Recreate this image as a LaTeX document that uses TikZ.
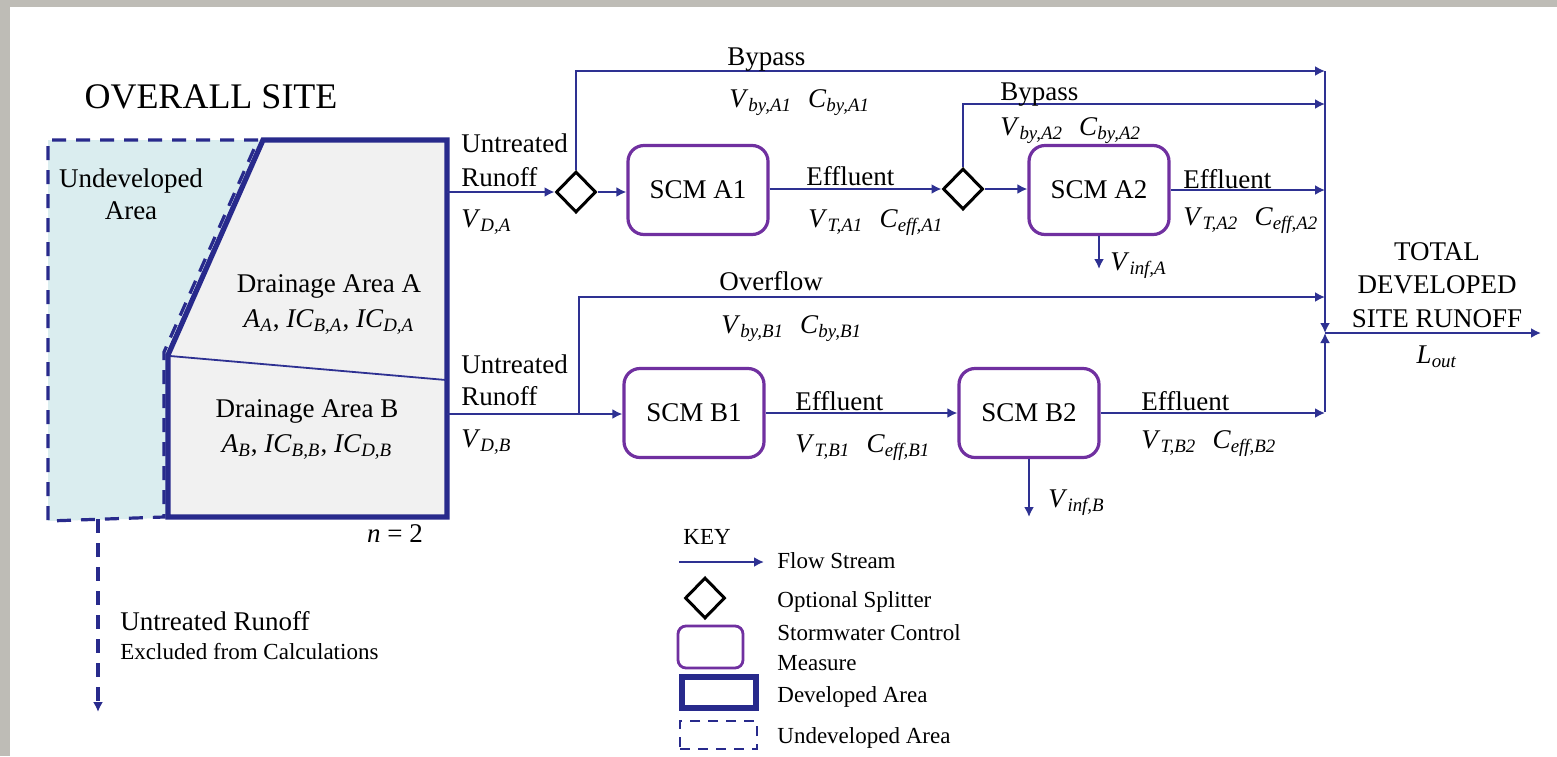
\documentclass[tikz,border=0pt]{standalone}
\usepackage{amsmath}
\usepackage{fontspec}
\setmainfont{Liberation Serif}
\usepackage{tikz}
\usetikzlibrary{arrows.meta}
\usetikzlibrary{shapes.geometric}
\usetikzlibrary{positioning}
\definecolor{flowblue}{RGB}{46,49,146}
\definecolor{devblue}{RGB}{40,42,140}
\definecolor{scmpurple}{RGB}{112,48,160}
\definecolor{undevfill}{RGB}{218,237,239}
\definecolor{devfill}{RGB}{241,241,241}
\definecolor{bggrey}{RGB}{190,188,182}
\newcommand{\vsub}[2]{\textit{#1}\textsubscript{\textit{#2}}}
\tikzset{
    flow/.style={draw=flowblue, line width=1pt, -{Latex[length=5pt,width=5pt]}},
    scm/.style={draw=scmpurple, line width=1.6pt, rounded corners=8pt, minimum width=70pt, minimum height=44.5pt, font=\fontsize{13.5}{16}\selectfont},
    splitter/.style={diamond, draw=black, line width=1.5pt, inner sep=0pt, minimum width=20pt, minimum height=20.5pt},
    undev/.style={draw=devblue, line width=1.6pt, dash pattern=on 7pt off 5pt},
    dev/.style={draw=devblue, line width=2.6pt},
    lbl/.style={anchor=base west, inner sep=0pt, font=\fontsize{13.5}{16}\selectfont},
    ctr/.style={anchor=base, inner sep=0pt, font=\fontsize{13.5}{16}\selectfont},
    keytxt/.style={anchor=base west, inner sep=0pt, font=\fontsize{11.5}{14}\selectfont}
}
\begin{document}
\begin{tikzpicture}[x=0.5pt,y=-0.5pt]
\useasboundingbox (0,0) rectangle (1557,756);
\fill[bggrey] (0,0) rectangle (1557,756);
\fill[white] (10,7) rectangle (1557,756);

\fill[undevfill] (48,140) -- (260,140) -- (166,352) -- (166,518) -- (48,521) -- cycle;
\fill[devfill] (263,140) -- (447,140) -- (447,517) -- (168,517) -- (168,355) -- cycle;
\draw[undev] (258,140) -- (48,140) -- (48,521) -- (164,517) -- (164,352) -- cycle;
\draw[dev] (263,140) -- (447,140) -- (447,517) -- (168,517) -- (168,355) -- cycle;
\draw[flowblue, line width=0.9pt] (170,356) -- (446,380);

\node[ctr, font=\fontsize{18}{22}\selectfont] (site) at (211,108) {OVERALL SITE};
\foreach \x/\y/\name/\txt in {131/187/undevA/Undeveloped, 131/219/undevB/Area,
    329/292/areaA/{Drainage Area A}, 329/327/parA/{\vsub{A}{A}, \vsub{IC}{B,A}, \vsub{IC}{D,A}},
    307/417/areaB/{Drainage Area B}, 307/452/parB/{\vsub{A}{B}, \vsub{IC}{B,B}, \vsub{IC}{D,B}},
    395/542/nareas/{\textit{n} = 2},
    1437/260/totA/TOTAL, 1437/293/totB/DEVELOPED, 1437/327/totC/{SITE RUNOFF}, 1437/363/lout/{\vsub{L}{out}}}{
    \node[ctr] (\name) at (\x,\y) {\txt};
}

\coordinate (runA) at (447,192);
\coordinate (runB) at (447,414);
\coordinate (ovB) at (579,414);
\coordinate (colTop) at (1325,71);
\coordinate (colA2) at (1325,104);
\coordinate (colOv) at (1325,297);
\coordinate (junc) at (1325,333);
\coordinate (colBot) at (1325,412);
\coordinate (out) at (1541,333);
\coordinate (infA) at (1099,269);
\coordinate (infB) at (1029,517);
\coordinate (undevOut) at (98,519);
\coordinate (excl) at (98,712);

\node[splitter] (splA1) at (576,192) {};
\node[scm] (scmA1) at (698,190) {SCM A1};
\node[splitter] (splA2) at (963,189) {};
\node[scm] (scmA2) at (1099,190) {SCM A2};
\node[scm] (scmB1) at (694,413) {SCM B1};
\node[scm] (scmB2) at (1029,413) {SCM B2};

\draw[flow] (runA) -- (splA1.west);
\draw[flow] (splA1.east) -- (splA1.east -| scmA1.west);
\draw[flow] (splA1.north) |- (colTop);
\draw[flow] (scmA1.east |- splA2) -- (splA2.west);
\draw[flow] (splA2.north) |- (colA2);
\draw[flow] (splA2.east) -- (splA2.east -| scmA2.west);
\draw[flow] (scmA2.east) -- (scmA2.east -| junc);
\draw[flow] (scmA2.south) -- (infA);
\draw[flow] (runB) -- (runB -| scmB1.west);
\draw[flow] (ovB) |- (colOv);
\draw[flow] (scmB1.east) -- (scmB1.east -| scmB2.west);
\draw[flow] (scmB2.east) -- (scmB2.east -| junc);
\draw[flow] (scmB2.south) -- (infB);
\draw[flow] (colTop) -- (junc);
\draw[flow] (colBot) -- (junc);
\draw[flow] (junc) -- (out);
\draw[undev, -{Latex[length=5pt,width=5pt]}] (undevOut) -- (excl);

\foreach \x/\y/\name/\txt in {461/152/untrA/Untreated, 461/186/roffA/Runoff, 461/227/vDA/{\vsub{V}{D,A}},
    727/65/bypA1/Bypass, 729/107/vbyA1/{\vsub{V}{by,A1}\hspace{0.6em}\vsub{C}{by,A1}},
    806/185/effA1/Effluent, 808/227/vTA1/{\vsub{V}{T,A1}\hspace{0.6em}\vsub{C}{eff,A1}},
    1000/100/bypA2/Bypass, 1000/135/vbyA2/{\vsub{V}{by,A2}\hspace{0.6em}\vsub{C}{by,A2}},
    1183/188/effA2/Effluent, 1183/225/vTA2/{\vsub{V}{T,A2}\hspace{0.6em}\vsub{C}{eff,A2}},
    1110/270/vinfA/{\vsub{V}{inf,A}},
    719/290/ovfl/Overflow, 721/333/vbyB1/{\vsub{V}{by,B1}\hspace{0.6em}\vsub{C}{by,B1}},
    461/373/untrB/Untreated, 461/405/roffB/Runoff, 461/447/vDB/{\vsub{V}{D,B}},
    795/410/effB1/Effluent, 795/452/vTB1/{\vsub{V}{T,B1}\hspace{0.6em}\vsub{C}{eff,B1}},
    1141/410/effB2/Effluent, 1141/448/vTB2/{\vsub{V}{T,B2}\hspace{0.6em}\vsub{C}{eff,B2}},
    1048/507/vinfB/{\vsub{V}{inf,B}},
    120/630/untrX/{Untreated Runoff}}{
    \node[lbl] (\name) at (\x,\y) {\txt};
}
\node[keytxt] (exclTxt) at (120,659) {Excluded from Calculations};

\node[keytxt] (key) at (683,544) {KEY};
\coordinate (keyS) at (679,562);
\coordinate (keyE) at (764,562);
\draw[flow] (keyS) -- (keyE);
\node[splitter] (keySpl) at (705,598) {};
\node[draw=scmpurple, line width=1.4pt, rounded corners=4pt, minimum width=32.5pt, minimum height=21pt] (keyScm) at (710.5,647) {};
\node[dev, minimum width=37pt, minimum height=15.5pt, inner sep=0pt] (keyDev) at (719,692.5) {};
\node[draw=devblue, line width=0.8pt, dash pattern=on 5pt off 4pt, minimum width=38.5pt, minimum height=14pt, inner sep=0pt] (keyUndev) at (718.5,735) {};
\foreach \y/\name/\txt in {568/keyFlow/{Flow Stream}, 607/keySplTxt/{Optional Splitter},
    640/keyScmA/{Stormwater Control}, 670/keyScmB/Measure, 702/keyDevTxt/{Developed Area},
    743/keyUndevTxt/{Undeveloped Area}}{
    \node[keytxt] (\name) at (777,\y) {\txt};
}
\end{tikzpicture}
\end{document}
